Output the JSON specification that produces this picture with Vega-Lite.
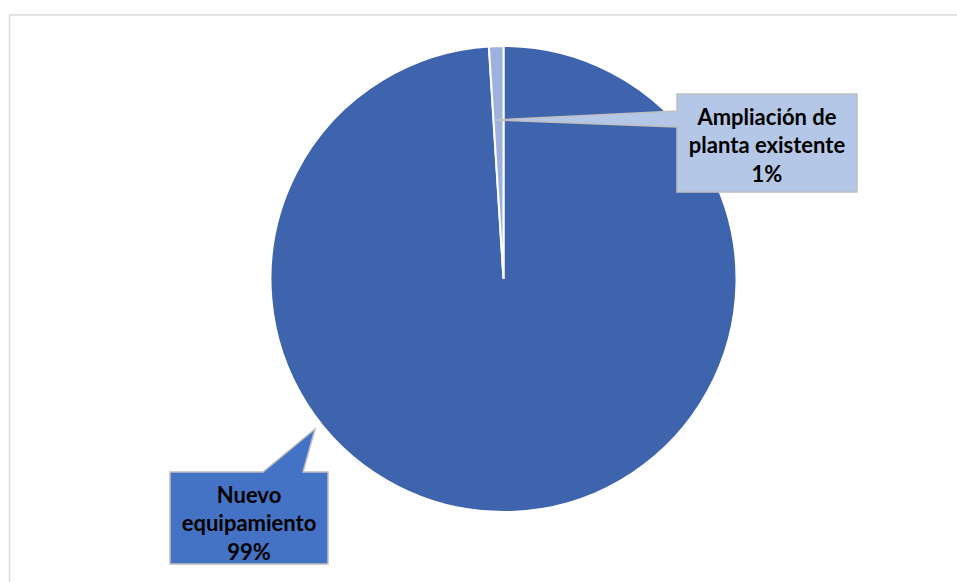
{
  "$schema": "https://vega.github.io/schema/vega-lite/v6.json",
  "width": 907,
  "height": 558,
  "autosize": {"type": "none"},
  "padding": {"left": 50, "top": 0, "right": 0, "bottom": 24},
  "background": "white",
  "config": {"view": {"stroke": null}},
  "data": {
    "values": [
      {"categoria": "Nuevo equipamiento", "valor": 99},
      {"categoria": "Ampliación de planta existente", "valor": 1}
    ]
  },
  "transform": [
    {"calculate": "replace(datum.categoria, regexp(' (?=planta|equipamiento)'), '\\n') + '\\n' + format(datum.valor / 100, '.0%')", "as": "etiqueta"}
  ],
  "layer": [
    {
      "transform": [{"filter": "datum.categoria == 'Nuevo equipamiento'"}],
      "mark": {"type": "point", "shape": "M-494,321L-494,-264L460,-264", "size": 4, "filled": false, "stroke": "#D9D9D9", "strokeWidth": 1.5, "opacity": 1},
      "encoding": {}
    },
    {
      "mark": {"type": "arc", "outerRadius": 233, "stroke": "white", "strokeWidth": 2},
      "encoding": {
        "theta": {"field": "valor", "type": "quantitative", "stack": true},
        "order": {"field": "valor", "sort": "descending"},
        "color": {
          "field": "categoria",
          "type": "nominal",
          "scale": {"domain": ["Nuevo equipamiento", "Ampliación de planta existente"], "range": ["#3D64AD", "#9EB1DD"]},
          "legend": null
        }
      }
    },
    {
      "transform": [{"filter": "datum.categoria == 'Ampliación de planta existente'"}],
      "mark": {"type": "point", "shape": "M173.5,-185L353.5,-185L353.5,-87L173.5,-87L173.5,-152L-9.5,-159L173.5,-168Z", "size": 4, "filled": true, "fill": "#B4C7E7", "stroke": "#BFBFBF", "strokeWidth": 1.5, "opacity": 1},
      "encoding": {}
    },
    {
      "transform": [{"filter": "datum.categoria == 'Nuevo equipamiento'"}],
      "mark": {"type": "point", "shape": "M-333.5,193L-240.5,193L-188.5,150L-200.5,193L-175.5,193L-175.5,285L-333.5,285Z", "size": 4, "filled": true, "fill": "#4472C4", "stroke": "#BFBFBF", "strokeWidth": 1.5, "opacity": 1},
      "encoding": {}
    },
    {
      "transform": [{"filter": "datum.categoria == 'Ampliación de planta existente'"}],
      "mark": {"type": "text", "dx": 263.5, "dy": -161.5, "align": "center", "baseline": "middle", "lineBreak": "\n", "lineHeight": 28.5, "font": "Lato", "fontSize": 22, "fontWeight": "bold", "color": "black"},
      "encoding": {"text": {"field": "etiqueta", "type": "nominal"}}
    },
    {
      "transform": [{"filter": "datum.categoria == 'Nuevo equipamiento'"}],
      "mark": {"type": "text", "dx": -254.5, "dy": 216.5, "align": "center", "baseline": "middle", "lineBreak": "\n", "lineHeight": 28.5, "font": "Lato", "fontSize": 22, "fontWeight": "bold", "color": "black"},
      "encoding": {"text": {"field": "etiqueta", "type": "nominal"}}
    }
  ]
}
